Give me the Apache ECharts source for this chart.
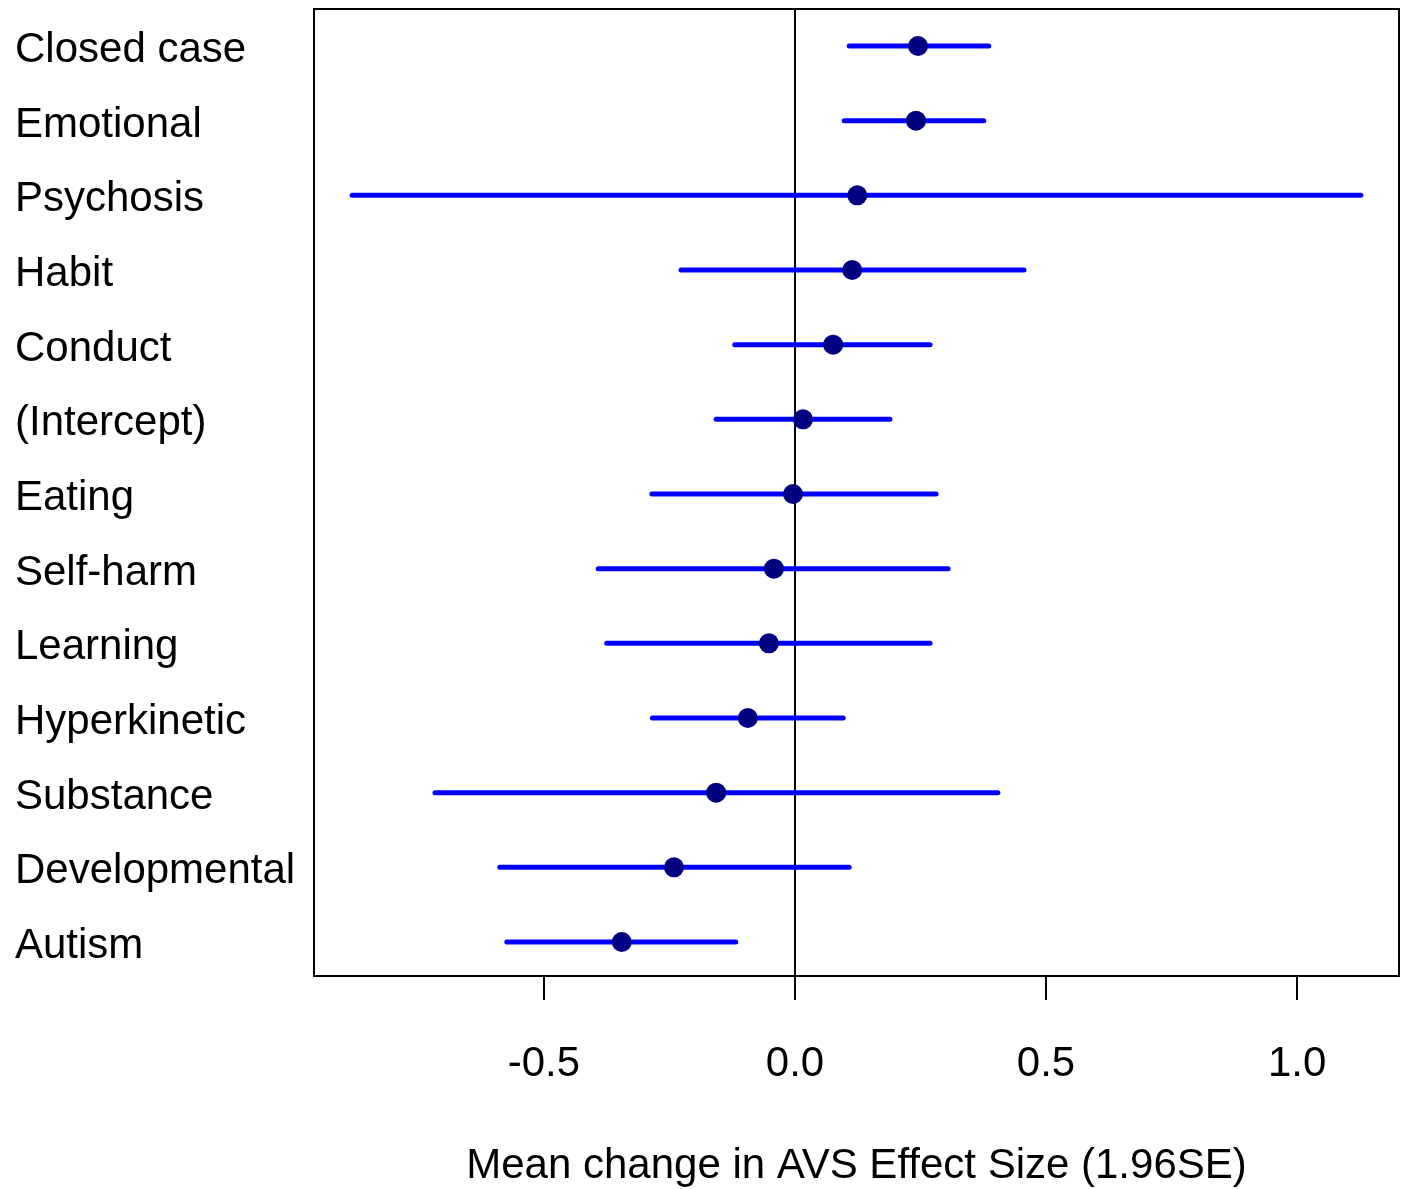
<!DOCTYPE html>
<html>
<head>
<meta charset="utf-8">
<title>Mean change in AVS Effect Size</title>
<script src="https://cdn.jsdelivr.net/npm/echarts@6/dist/echarts.min.js"></script>
<style>
  html, body { margin: 0; padding: 0; background: #fff; }
  #chart { width: 1403px; height: 1189px; }
</style>
</head>
<body>
<div id="chart"></div>
<script>
// Categories listed from top row to bottom row
const categories = [
  'Closed case', 'Emotional', 'Psychosis', 'Habit', 'Conduct', '(Intercept)',
  'Eating', 'Self-harm', 'Learning', 'Hyperkinetic', 'Substance',
  'Developmental', 'Autism'
];
// Point estimates (mean change in effect size)
const estimates = [
  0.245, 0.241, 0.124, 0.114, 0.076, 0.016,
  -0.004, -0.042, -0.052, -0.094, -0.157, -0.241, -0.345
];
// Lower and upper limits (estimate ± 1.96 SE)
const lower = [
  0.108, 0.098, -0.882, -0.227, -0.120, -0.157,
  -0.285, -0.392, -0.375, -0.284, -0.717, -0.588, -0.574
];
const upper = [
  0.386, 0.376, 1.127, 0.456, 0.269, 0.189,
  0.281, 0.305, 0.269, 0.096, 0.404, 0.108, -0.118
];
const xTicks = [-0.5, 0.0, 0.5, 1.0];

const FONT = '"Liberation Sans", Arial, sans-serif';
const rowIndex = categories.map((_, i) => i);

const chart = echarts.init(document.getElementById('chart'), null, { renderer: 'canvas' });

chart.setOption({
  backgroundColor: '#ffffff',
  animation: false,
  grid: {
    left: 314, right: 4, top: 9, bottom: 213,
    outerBoundsMode: 'none',
    containLabel: false,
    show: true, borderColor: '#000', borderWidth: 2, backgroundColor: 'transparent'
  },
  xAxis: {
    type: 'value',
    min: -0.958,
    max: 1.203,
    name: 'Mean change in AVS Effect Size (1.96SE)',
    nameLocation: 'middle',
    nameGap: 169,
    nameTextStyle: { fontFamily: FONT, fontSize: 42, color: '#000' },
    axisLine: { show: true, onZero: false, lineStyle: { color: '#000', width: 2 } },
    axisTick: {
      show: true, inside: false, length: 24,
      customValues: xTicks,
      lineStyle: { color: '#000', width: 2 }
    },
    axisLabel: {
      show: true,
      customValues: xTicks,
      margin: 67,
      fontFamily: FONT, fontSize: 42, color: '#000',
      formatter: v => v.toFixed(1)
    },
    splitLine: { show: false }
  },
  yAxis: {
    type: 'value',
    inverse: true,
    min: -0.495,
    max: 12.455,
    axisLine: { show: false },
    axisTick: { show: false },
    splitLine: { show: false },
    axisLabel: {
      show: true,
      customValues: rowIndex,
      align: 'left',
      margin: 299,
      fontFamily: FONT, fontSize: 42, color: '#000',
      formatter: v => '{n|' + categories[Math.round(v)] + '}',
      rich: {
        n: { fontFamily: FONT, fontSize: 42, color: '#000', padding: [9, 0, 0, 0] }
      }
    }
  },
  series: [
    {
      // Confidence interval bars
      type: 'custom',
      silent: true,
      data: rowIndex.map(i => [lower[i], upper[i], i]),
      encode: { x: [0, 1], y: 2 },
      renderItem: (params, api) => {
        const a = api.coord([api.value(0), api.value(2)]);
        const b = api.coord([api.value(1), api.value(2)]);
        return {
          type: 'line',
          shape: { x1: a[0], y1: a[1], x2: b[0], y2: b[1] },
          style: { stroke: '#0000ff', lineWidth: 5, lineCap: 'round' }
        };
      },
      z: 2
    },
    {
      // Point estimates
      type: 'scatter',
      silent: true,
      data: rowIndex.map(i => [estimates[i], i]),
      symbol: 'circle',
      symbolSize: 20,
      itemStyle: { color: '#000080', opacity: 1 },
      z: 3,
      markLine: {
        silent: true,
        symbol: 'none',
        label: { show: false },
        lineStyle: { color: '#000', width: 2, type: 'solid' },
        data: [{ xAxis: 0 }],
        z: 1
      }
    }
  ]
});
</script>
</body>
</html>
